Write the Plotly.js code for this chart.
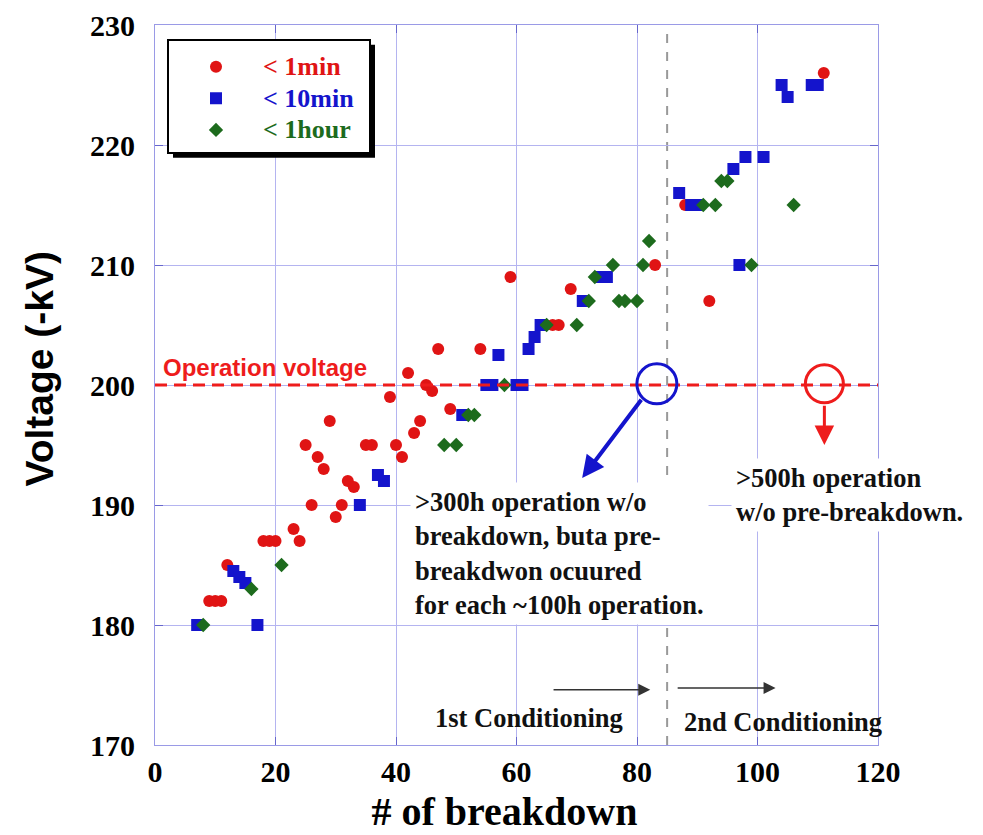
<!DOCTYPE html>
<html>
<head>
<meta charset="utf-8">
<script src="https://cdn.plot.ly/plotly-3.0.1.min.js"></script>
<style>html,body{margin:0;padding:0;background:#fff;}#chart{width:983px;height:835px;}</style>
</head>
<body>
<div id="chart"></div>
<script>
// ---- data ----
var seriesNames = ['&lt; 1min', '&lt; 10min', '&lt; 1hour'];

var redX = [9,10,11,12,18,19,20,23,24,25,26,27,28,29,30,31,32,33,35,36,39,40,41,42,43,44,45,46,47,49,54,59,66,67,69,83,88,92,111];
var redY = [182,182,182,185,187,187,187,188,187,195,190,194,193,197,189,190,192,191.5,195,195,199,195,194,201,196,197,200,199.5,203,198,203,209,205,205,208,210,215,207,226];

var blueX = [7,13,14,15,17,34,37,38,51,55,56,57,60,61,62,63,64,71,74,75,87,89,90,96,97,98,101,104,105,109,110];
var blueY = [180,184.5,184,183.5,180,190,192.5,192,197.5,200,200,202.5,200,200,203,204,205,207,209,209,216,215,215,218,210,219,219,225,224,225,225];

var greenX = [8,16,21,48,50,52,53,58,65,70,72,73,76,77,78,80,81,82,91,93,94,95,99,106];
var greenY = [180,183,185,195,195,197.5,197.5,200,205,205,207,209,210,207,207,207,210,212,215,215,217,217,210,215];

var xTicks = [0,20,40,60,80,100,120];
var yTicks = [170,180,190,200,210,220,230];

var operationVoltage = 200;
var conditioningSplit = 85;

var RED = '#e01414', BLUE = '#1414cc', GREEN = '#1d6b1d';
var SERIF = 'Liberation Serif, Times New Roman, serif';
var SANS = 'Liberation Sans, Arial, sans-serif';

function legendName(label, color) {
  return '<span style="color:' + color + ';font-size:26px">' + label + '</span>' +
         '<span style="font-size:20px">&nbsp;&nbsp;</span>';
}

var traces = [
  {x: redX, y: redY, type: 'scatter', mode: 'markers', name: legendName(seriesNames[0], RED),
   marker: {symbol: 'circle', size: 12, color: RED}},
  {x: blueX, y: blueY, type: 'scatter', mode: 'markers', name: legendName(seriesNames[1], BLUE),
   marker: {symbol: 'square', size: 12, color: BLUE}},
  {x: greenX, y: greenY, type: 'scatter', mode: 'markers', name: legendName(seriesNames[2], GREEN),
   marker: {symbol: 'diamond', size: 11, color: GREEN}}
];

var gridColor = '#b4b4f0';
var layout = {
  width: 983, height: 835,
  margin: {l: 155, r: 105, t: 25, b: 90},
  paper_bgcolor: 'white', plot_bgcolor: 'white',
  showlegend: true,
  legend: {
    x: 0.0166, y: 0.981, xanchor: 'left', yanchor: 'top',
    bgcolor: 'white', bordercolor: 'black', borderwidth: 2,
    font: {family: SERIF, size: 22, weight: 'bold', color: 'black'},
    title: {text: '&nbsp;', font: {family: SERIF, size: 4}},
    itemwidth: 84, tracegroupgap: 0
  },
  xaxis: {
    range: [0, 120], tickvals: xTicks, ticktext: xTicks.map(String),
    showgrid: true, gridcolor: gridColor, gridwidth: 1, zeroline: false,
    showline: true, linecolor: '#9a9ae6', linewidth: 1, mirror: 'ticks',
    ticks: 'inside', ticklen: 8, tickcolor: '#6666cc',
    tickfont: {family: SERIF, size: 30, weight: 'bold', color: 'black'},
    title: {text: '# of breakdown<span style="font-size:48px">&nbsp;&nbsp;</span>',
            font: {family: SERIF, size: 40, weight: 'bold', color: 'black'}, standoff: 25}
  },
  yaxis: {
    range: [170, 230], tickvals: yTicks, ticktext: yTicks.map(String),
    showgrid: true, gridcolor: gridColor, gridwidth: 1, zeroline: false,
    showline: true, linecolor: '#9a9ae6', linewidth: 1, mirror: 'ticks',
    ticks: 'inside', ticklen: 8, tickcolor: '#6666cc', ticklabelstandoff: 13,
    tickfont: {family: SERIF, size: 30, weight: 'bold', color: 'black'},
    title: {text: '&nbsp;&nbsp;&nbsp;Voltage (-kV)', font: {family: SANS, size: 39, weight: 'bold', color: 'black'}, standoff: 24}
  },
  shapes: [
    // legend shadow (repositioned to the drawn legend box below)
    {type: 'rect', xref: 'paper', yref: 'paper', layer: 'above',
     x0: (173 - 155) / 723, x1: (373 - 155) / 723, y0: (745 - 159) / 720, y1: (745 - 44) / 720,
     fillcolor: 'black', line: {width: 0}},
    // operation voltage line
    {type: 'line', xref: 'x', yref: 'y', x0: 0, x1: 120, y0: operationVoltage, y1: operationVoltage,
     line: {color: '#ee1c1c', width: 3, dash: '12px,7px'}, layer: 'above'},
    // conditioning split
    {type: 'line', xref: 'x', yref: 'y', x0: conditioningSplit, x1: conditioningSplit, y0: 170, y1: 230,
     line: {color: '#999999', width: 2, dash: '9px,9px'}, layer: 'below'},
    // circles
    {type: 'circle', xref: 'x', yref: 'y', xsizemode: 'pixel', ysizemode: 'pixel',
     xanchor: 83.3, yanchor: 200.1, x0: -20, x1: 20, y0: -20, y1: 20,
     line: {color: BLUE, width: 3}, layer: 'above'},
    {type: 'circle', xref: 'x', yref: 'y', xsizemode: 'pixel', ysizemode: 'pixel',
     xanchor: 111.1, yanchor: 200.1, x0: -19, x1: 19, y0: -19, y1: 19,
     line: {color: '#ee1c1c', width: 3}, layer: 'above'}
  ],
  annotations: [
    {x: 1.0, y: 201.5, xref: 'x', yref: 'y', xanchor: 'left', yanchor: 'middle', showarrow: false,
     text: 'Operation voltage', font: {family: SANS, size: 24, weight: 'bold', color: '#ee1c1c'}},
    // blue arrow
    {x: 70.9, y: 192.25, ax: 80.9, ay: 198.9, xref: 'x', yref: 'y', axref: 'x', ayref: 'y',
     text: '', showarrow: true, arrowhead: 2, arrowsize: 1.1, arrowwidth: 4, arrowcolor: BLUE, standoff: 0},
    // red arrow
    {x: 111.1, y: 195, ax: 111.1, ay: 198.4, xref: 'x', yref: 'y', axref: 'x', ayref: 'y',
     text: '', showarrow: true, arrowhead: 2, arrowsize: 1.3, arrowwidth: 3, arrowcolor: '#ee1c1c', standoff: 0},
    // conditioning arrows
    {x: 82.2, y: 174.6, ax: 65.9, ay: 174.6, xref: 'x', yref: 'y', axref: 'x', ayref: 'y',
     text: '', showarrow: true, arrowhead: 2, arrowsize: 1.6, arrowwidth: 1.5, arrowcolor: '#333333', standoff: 0},
    {x: 103, y: 174.75, ax: 86.5, ay: 174.75, xref: 'x', yref: 'y', axref: 'x', ayref: 'y',
     text: '', showarrow: true, arrowhead: 2, arrowsize: 1.6, arrowwidth: 1.5, arrowcolor: '#333333', standoff: 0},
    // texts
    {x: 42.3, y: 186, xref: 'x', yref: 'y', xanchor: 'left', yanchor: 'middle', align: 'left', showarrow: false,
     bgcolor: 'white', borderpad: 4,
     text: '&gt;300h operation w/o<br>breakdown, buta pre-<br>breakdwon ocuured<br>for each ~100h operation.',
     font: {family: SERIF, size: 26.5, weight: 'bold', color: '#111'}},
    {x: 95.6, y: 190.8, xref: 'x', yref: 'y', xanchor: 'left', yanchor: 'middle', align: 'left', showarrow: false,
     bgcolor: 'white', borderpad: 4,
     text: '&gt;500h operation<br>w/o pre-breakdown.',
     font: {family: SERIF, size: 26.5, weight: 'bold', color: '#111'}},
    {x: 62, y: 172.25, xref: 'x', yref: 'y', xanchor: 'center', yanchor: 'middle', showarrow: false,
     text: '1st Conditioning', font: {family: SERIF, size: 26.5, weight: 'bold', color: '#111'}},
    {x: 104.2, y: 171.9, xref: 'x', yref: 'y', xanchor: 'center', yanchor: 'middle', showarrow: false,
     text: '2nd Conditioning', font: {family: SERIF, size: 26.5, weight: 'bold', color: '#111'}}
  ]
};

Plotly.newPlot('chart', traces, layout, {displayModeBar: false, staticPlot: true}).then(function (gd) {
  var bg = gd.querySelector('.legend rect.bg');
  if (!bg) return;
  var r = bg.getBoundingClientRect();
  var c = gd.getBoundingClientRect();
  var sz = gd._fullLayout._size;
  var off = 5;
  var toPX = function (px) { return (px - c.left - sz.l) / sz.w; };
  var toPY = function (py) { return (sz.t + sz.h - (py - c.top)) / sz.h; };
  return Plotly.relayout(gd, {
    'shapes[0].x0': toPX(r.left + off), 'shapes[0].x1': toPX(r.right + off),
    'shapes[0].y0': toPY(r.bottom + off), 'shapes[0].y1': toPY(r.top + off)
  });
});
</script>
</body>
</html>
